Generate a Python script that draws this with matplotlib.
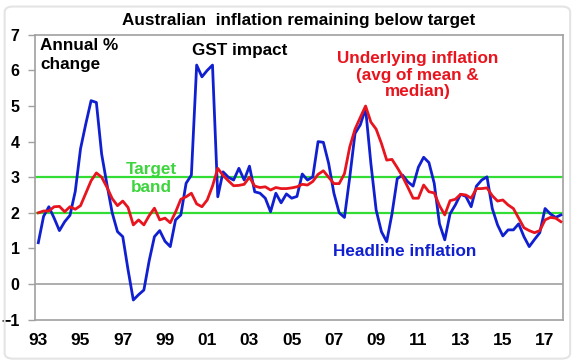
import matplotlib.pyplot as plt
import numpy as np
from matplotlib.patches import FancyBboxPatch

plt.rcParams['font.family'] = ['Liberation Sans', 'DejaVu Sans']
plt.rcParams['font.weight'] = 'bold'

# quarterly data, Mar-93 to Dec-17 (annual % change)
headline = [1.16, 1.9, 2.17, 1.85, 1.5, 1.75, 1.93, 2.6, 3.8, 4.5,
            5.15, 5.1, 3.65, 2.8, 2.0, 1.47, 1.33, 0.4, -0.45, -0.3,
            -0.17, 0.65, 1.33, 1.5, 1.2, 1.05, 1.8, 1.94, 2.83, 3.06,
            6.15, 5.82, 6.0, 6.15, 2.45, 3.15, 3.0, 2.92, 3.25, 2.92,
            3.31, 2.59, 2.55, 2.41, 2.03, 2.55, 2.28, 2.53, 2.41, 2.46,
            3.09, 2.92, 3.01, 4.0, 3.98, 3.39, 2.55, 2.0, 1.87, 3.0,
            4.23, 4.47, 4.93, 3.39, 2.08, 1.47, 1.19, 1.97, 2.96, 3.06,
            2.87, 2.75, 3.28, 3.56, 3.41, 2.83, 1.69, 1.24, 1.97, 2.22,
            2.52, 2.46, 2.17, 2.75, 2.92, 3.01, 2.12, 1.66, 1.35, 1.52,
            1.52, 1.69, 1.33, 1.05, 1.25, 1.44, 2.12, 1.97, 1.87, 1.94]

underlying = [2.0, 2.05, 2.05, 2.17, 2.18, 2.03, 2.17, 2.1, 2.2, 2.55,
              2.9, 3.12, 3.0, 2.72, 2.4, 2.2, 2.33, 2.15, 1.66, 1.8,
              1.66, 1.92, 2.13, 1.8, 1.85, 1.72, 2.02, 2.38, 2.45, 2.55,
              2.25, 2.17, 2.36, 2.75, 3.25, 3.05, 2.9, 2.76, 2.77, 2.8,
              3.0, 2.75, 2.71, 2.73, 2.64, 2.71, 2.68, 2.68, 2.7, 2.73,
              2.8, 2.78, 2.88, 3.08, 3.18, 3.0, 2.82, 2.82, 3.1, 3.85,
              4.35, 4.68, 5.0, 4.55, 4.35, 3.95, 3.48, 3.5, 3.27, 3.02,
              2.72, 2.41, 2.41, 2.78, 2.59, 2.56, 2.2, 1.94, 2.34, 2.38,
              2.52, 2.5, 2.41, 2.68, 2.68, 2.7, 2.48, 2.33, 2.36, 2.22,
              2.12, 1.85, 1.58, 1.5, 1.44, 1.5, 1.8, 1.87, 1.85, 1.75]

year_labels = ["93", "95", "97", "99", "01", "03", "05", "07", "09",
               "11", "13", "15", "17"]
target_band = [2, 3]

blue = "#1020D0"
red = "#E8141E"
green = "#33DD33"
grey = "#A0A0A0"

x = np.arange(len(headline))

fig = plt.figure(figsize=(5.8, 3.63), dpi=100)
ax = fig.add_axes([0.0603, 0.1196, 0.9104, 0.7845])

# outer rounded frame
fig.patches.append(FancyBboxPatch((0.008, 0.012), 0.975, 0.97,
                                  boxstyle="round,pad=0,rounding_size=0.015",
                                  transform=fig.transFigure, fc="none",
                                  ec="#E4E4E4", lw=1.5))

for lvl in target_band:
    ax.axhline(lvl, color=green, lw=1.6, zorder=1)
ax.axhline(0, color=grey, lw=1.2, zorder=1)

ax.plot(x, headline, color=blue, lw=2.0, zorder=3)
ax.plot(x, underlying, color=red, lw=2.0, zorder=4)

ax.set_xlim(-0.63, 99.4)
ax.set_ylim(-1, 7)
ax.set_yticks(range(-1, 8))
ax.set_xticks(np.arange(0, 97, 8))
ax.set_xticklabels(year_labels)

ax.tick_params(axis='y', length=5, width=1, color=grey, pad=6, labelsize=11.5)
ax.tick_params(axis='x', length=0, pad=10, labelsize=12.5)
for s in ax.spines.values():
    s.set_color(grey)
    s.set_linewidth(1.2)

ax.set_title("Australian  inflation remaining below target", fontsize=12.3,
             fontweight='bold', pad=7)

# annotations
ax.text(0.3, 6.9, "Annual %\nchange", fontsize=12.3, va='top', ha='left',
        linespacing=1.3)
ax.text(38.2, 6.57, "GST impact", fontsize=12.3, va='center', ha='center')
ax.text(71.9, 6.55, "Underlying inflation\n(avg of mean &\nmedian)",
        fontsize=12.3, color=red, va='top', ha='center', linespacing=1.15)
ax.text(21.5, 2.95, "Target\nband", fontsize=12.3, color="#3DD43D",
        va='center', ha='center', linespacing=1.25)
ax.text(69.4, 0.9, "Headline inflation", fontsize=12.3, color=blue,
        va='center', ha='center')

plt.savefig("out.png", dpi=100)
